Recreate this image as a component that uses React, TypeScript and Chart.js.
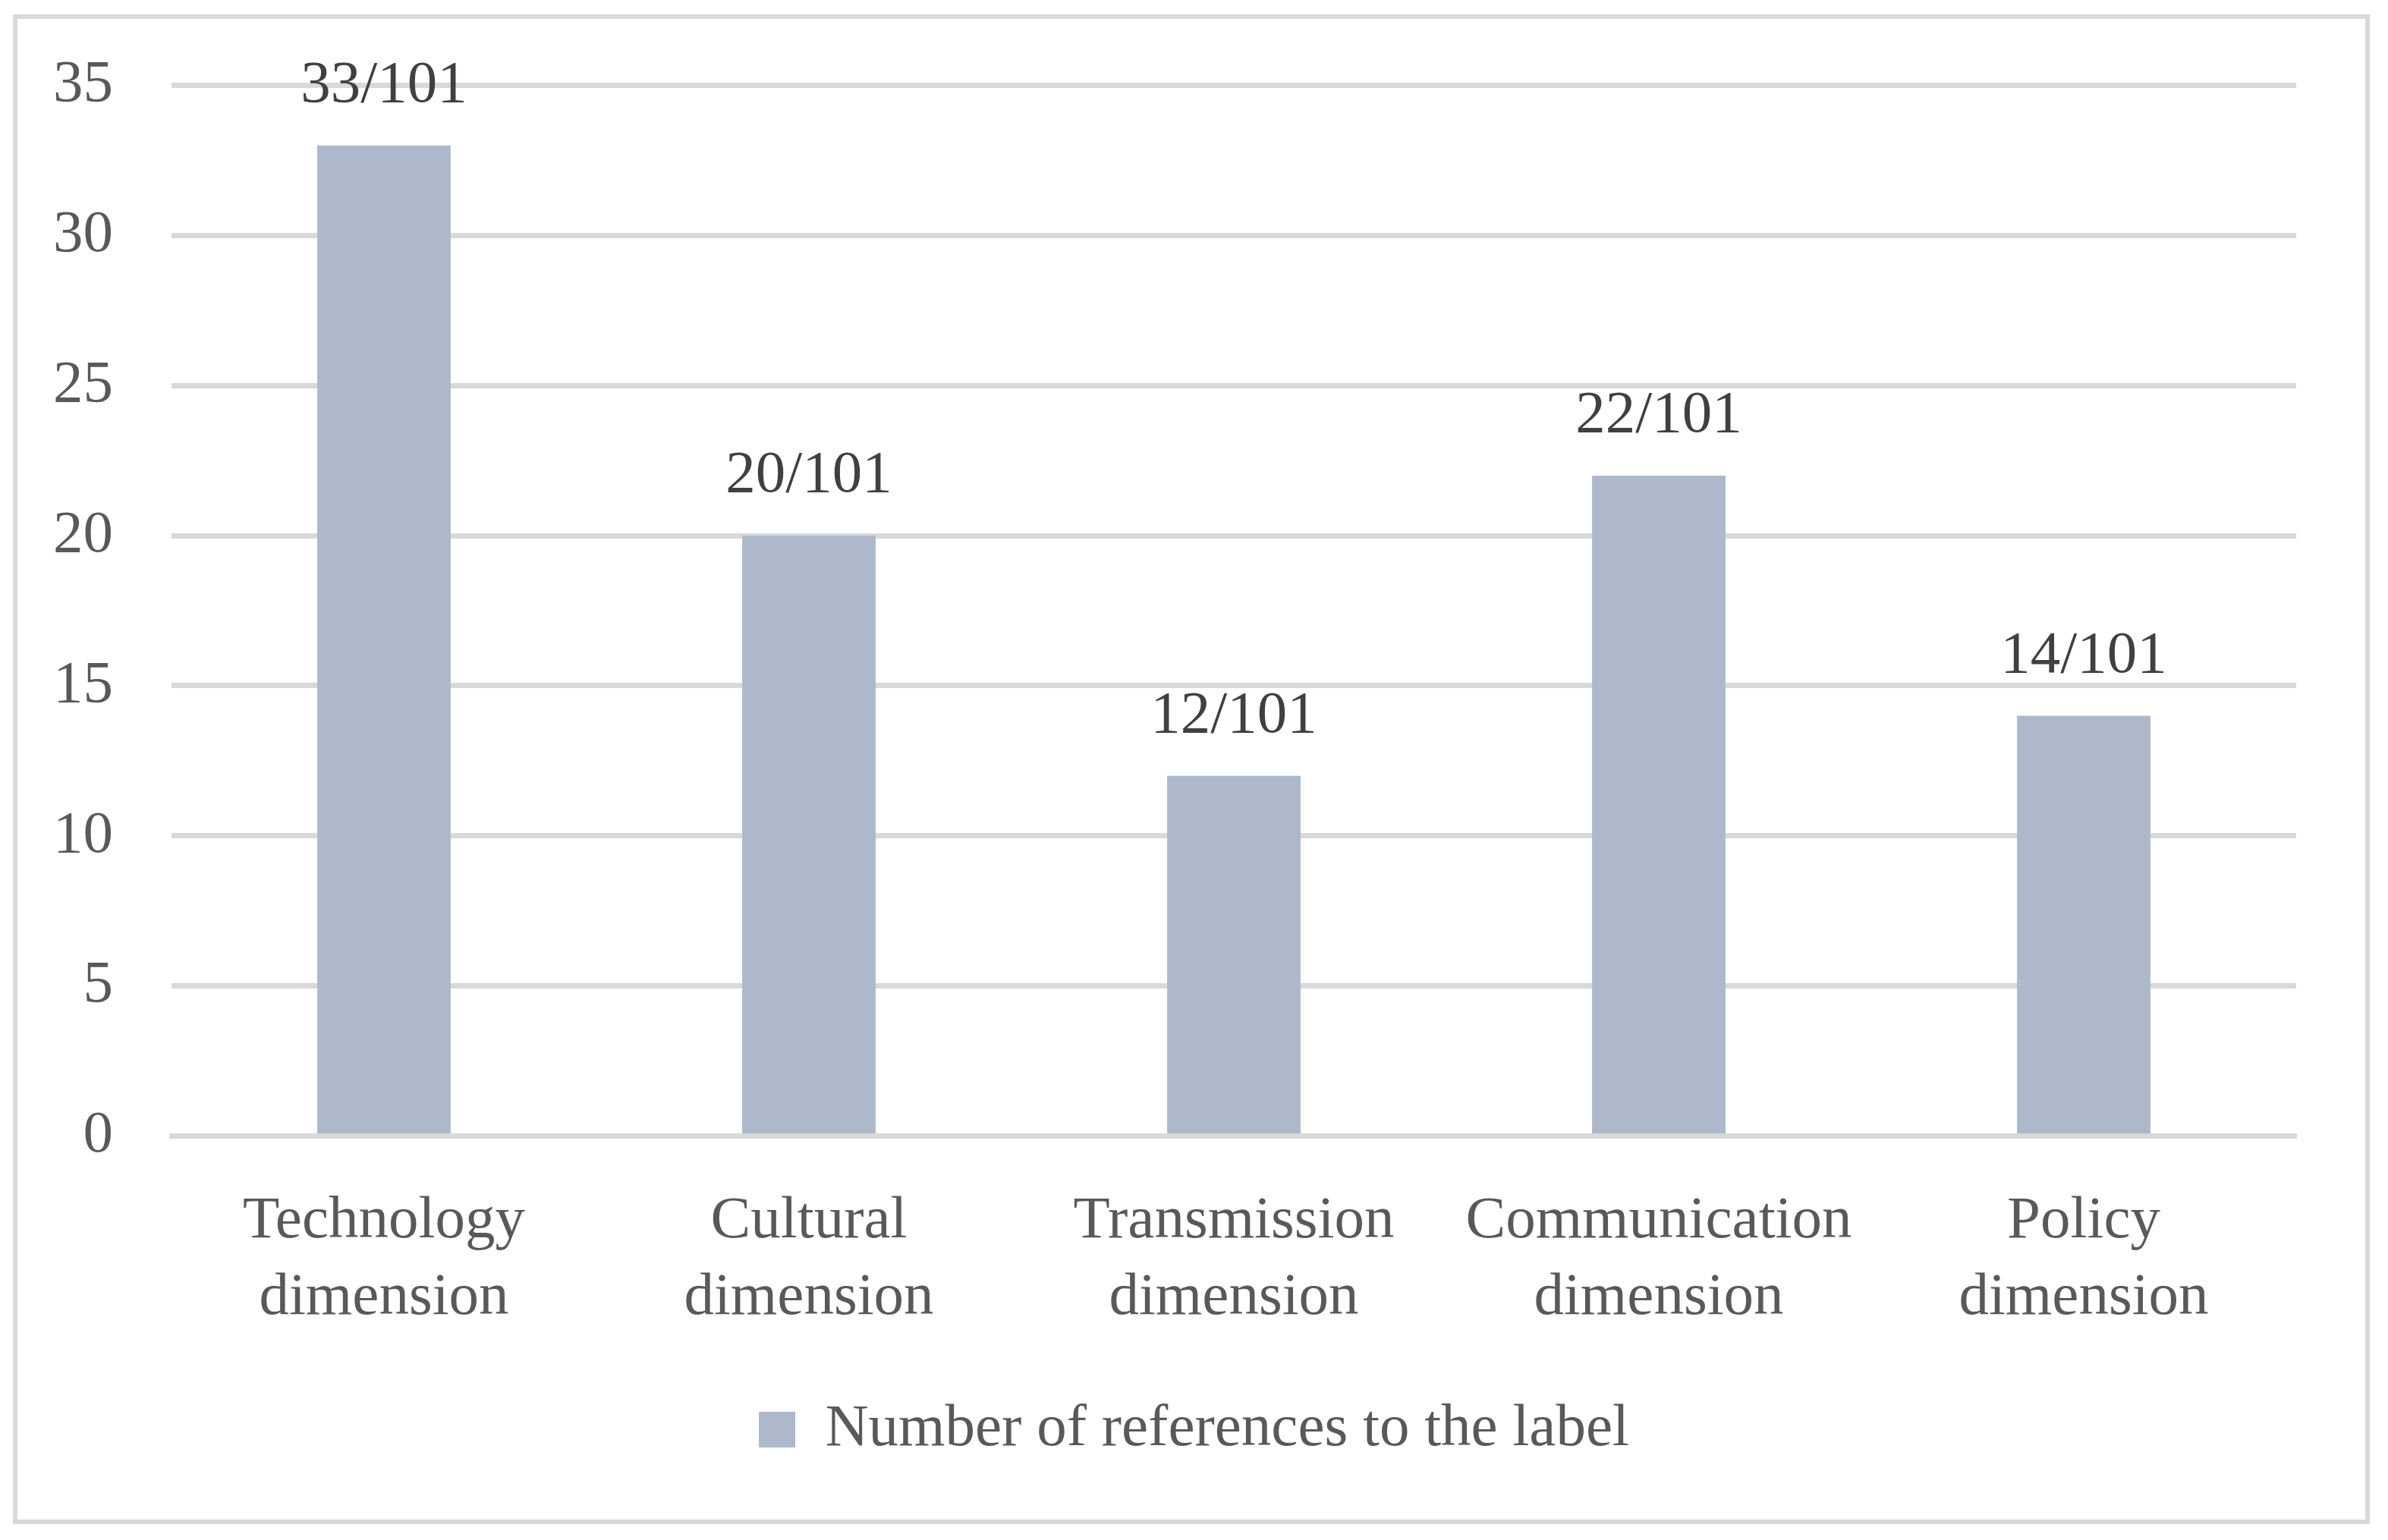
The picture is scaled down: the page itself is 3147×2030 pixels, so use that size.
import React, { useEffect, useRef } from "react";
import { Chart, registerables } from "chart.js";

Chart.register(...registerables);

const categories: string[][] = [
  ["Technology", "dimension"],
  ["Cultural", "dimension"],
  ["Transmission", "dimension"],
  ["Communication", "dimension"],
  ["Policy", "dimension"],
];
const seriesName = "Number of references to the label";
const values: number[] = [33, 20, 12, 22, 14];
const TOTAL = 101;
const dataLabels: string[] = values.map((v) => `${v}/${TOTAL}`);
const yMin = 0;
const yMax = 35;
const yStep = 5;

const FONT = "'Palatino Linotype', 'Book Antiqua', Palatino, 'Liberation Serif', serif";
const FSIZE = 79;
const BAR_COLOR = "#ADB9CA";
const GRID_COLOR = "#D9D9D9";
const TEXT_COLOR = "#595959";
const LABEL_COLOR = "#404040";

const frameAndLabels = {
  id: "frameAndLabels",
  beforeDraw(chart: any) {
    const ctx = chart.ctx;
    ctx.save();
    ctx.fillStyle = "#ffffff";
    ctx.fillRect(0, 0, chart.width, chart.height);
    ctx.strokeStyle = GRID_COLOR;
    ctx.lineWidth = 6;
    ctx.strokeRect(20, 22, 3100, 1984);
    ctx.restore();
  },
  afterDatasetsDraw(chart: any) {
    const ctx = chart.ctx;
    const meta = chart.getDatasetMeta(0);
    ctx.save();
    ctx.font = `${FSIZE}px ${FONT}`;
    ctx.fillStyle = LABEL_COLOR;
    ctx.textAlign = "center";
    ctx.textBaseline = "alphabetic";
    meta.data.forEach((bar: any, i: number) => {
      ctx.fillText(dataLabels[i], bar.x, bar.y - 58);
    });
    ctx.restore();
  },
};

export default function App() {
  const ref = useRef<HTMLCanvasElement | null>(null);

  useEffect(() => {
    if (!ref.current) return;
    const chart = new Chart(ref.current, {
      type: "bar",
      data: {
        labels: categories,
        datasets: [
          {
            label: seriesName,
            data: values,
            backgroundColor: BAR_COLOR,
            borderWidth: 0,
            categoryPercentage: 1,
            barPercentage: 0.314,
          },
        ],
      },
      options: {
        animation: false,
        responsive: false,
        devicePixelRatio: 1,
        layout: { padding: { left: 0, right: 0, top: 112.5, bottom: 96 } },
        plugins: {
          legend: {
            display: true,
            position: "bottom",
            labels: {
              boxWidth: 48,
              boxHeight: 47,
              padding: 10,
              color: TEXT_COLOR,
              font: { family: FONT, size: FSIZE },
            },
          },
          tooltip: { enabled: false },
        },
        scales: {
          x: {
            grid: { display: false },
            border: { display: true, color: GRID_COLOR, width: 7, z: 1 },
            ticks: {
              color: TEXT_COLOR,
              font: { family: FONT, size: FSIZE, lineHeight: 1.278 },
              padding: 54,
              maxRotation: 0,
              minRotation: 0,
              autoSkip: false,
            },
            afterFit: (s: any) => {
              s.height = 337.5;
            },
          },
          y: {
            min: yMin,
            max: yMax,
            grid: {
              color: GRID_COLOR,
              lineWidth: 7,
              drawTicks: true,
              tickLength: 77,
              tickColor: "rgba(0,0,0,0)",
            },
            border: { display: false },
            ticks: {
              stepSize: yStep,
              color: TEXT_COLOR,
              font: { family: FONT, size: FSIZE },
              padding: 0,
            },
            afterFit: (s: any) => {
              s.width = 226;
            },
          },
          yPad: {
            type: "linear",
            position: "right",
            display: true,
            grid: { display: false, drawTicks: false },
            border: { display: false },
            ticks: { display: false },
            afterFit: (s: any) => {
              s.width = 121;
            },
          },
        },
      },
      plugins: [frameAndLabels],
    } as any);
    return () => chart.destroy();
  }, []);

  return (
    <div style={{ position: "absolute", left: 0, top: 0, width: 3147, height: 2030, background: "#fff" }}>
      <canvas ref={ref} width={3147} height={2030} style={{ display: "block", width: 3147, height: 2030 }} />
    </div>
  );
}
